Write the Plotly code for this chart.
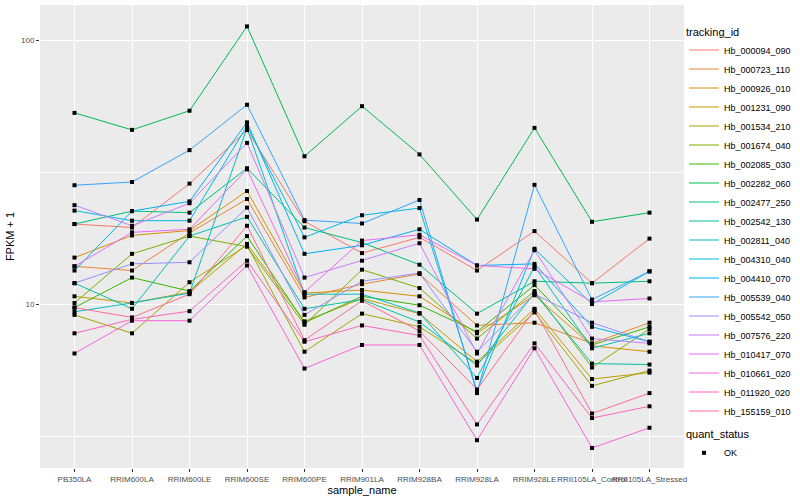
import plotly.graph_objects as go

samples = ["PB350LA", "RRIM600LA", "RRIM600LE", "RRIM600SE", "RRIM600PE", "RRIM901LA",
           "RRIM928BA", "RRIM928LA", "RRIM928LE", "RRII105LA_Control", "RRII105LA_Stressed"]

tracking_ids = ["Hb_000094_090", "Hb_000723_110", "Hb_000926_010", "Hb_001231_090", "Hb_001534_210",
                "Hb_001674_040", "Hb_002085_030", "Hb_002282_060", "Hb_002477_250", "Hb_002542_130",
                "Hb_002811_040", "Hb_004310_040", "Hb_004410_070", "Hb_005539_040", "Hb_005542_050",
                "Hb_007576_220", "Hb_010417_070", "Hb_010661_020", "Hb_011920_020", "Hb_155159_010"]

colors = ["#F8766D", "#EA8331", "#D89000", "#C09B00", "#A3A500", "#7CAE00", "#39B600", "#00BB4E",
          "#00BF7D", "#00C1A3", "#00BFC4", "#00BAE0", "#00B0F6", "#35A2FF", "#9590FF", "#C77CFF",
          "#E76BF3", "#FA62DB", "#FF62BC", "#FF6C91"]

# FPKM + 1 per tracking_id, in sample order
Hb_000094_090 = [20.1, 19.5, 28.6, 45.6, 20.6, 15.6, 17.9, 13.4, 18.9, 12.0, 17.7]
Hb_000723_110 = [13.9, 13.4, 18.6, 25.0, 10.6, 11.9, 13.0, 8.3, 8.5, 7.1, 8.5]
Hb_000926_010 = [15.0, 18.2, 19.0, 26.8, 11.0, 11.3, 10.7, 7.75, 10.8, 6.95, 6.6]
Hb_001231_090 = [10.7, 10.1, 11.1, 16.9, 8.6, 10.5, 9.2, 6.05, 9.6, 5.2, 5.5]
Hb_001534_210 = [9.1, 7.75, 12.1, 16.7, 6.6, 9.2, 8.2, 5.95, 9.3, 4.9, 5.6]
Hb_001674_040 = [10.1, 15.5, 18.1, 16.5, 8.35, 13.5, 11.5, 7.4, 11.2, 5.75, 8.05]
Hb_002085_030 = [9.7, 12.6, 11.2, 18.1, 8.5, 10.7, 9.9, 7.85, 11.8, 7.0, 8.2]
Hb_002282_060 = [53.0, 45.7, 54.0, 112.7, 36.3, 56.2, 36.9, 20.9, 46.5, 20.5, 22.2]
Hb_002477_250 = [20.1, 22.5, 22.2, 32.7, 19.5, 17.1, 14.1, 9.2, 12.2, 12.0, 12.2]
Hb_002542_130 = [12.0, 9.6, 18.1, 21.4, 9.6, 10.4, 8.55, 5.85, 11.0, 5.95, 5.9]
Hb_002811_040 = [9.35, 10.1, 11.0, 46.5, 10.9, 10.9, 9.25, 5.25, 13.9, 6.8, 7.75]
Hb_004310_040 = [22.6, 20.7, 20.7, 47.3, 17.9, 21.7, 23.1, 4.7, 16.2, 10.0, 13.3]
Hb_004410_070 = [13.4, 22.5, 24.5, 48.8, 15.5, 16.7, 19.2, 14.0, 14.2, 8.2, 7.2]
Hb_005539_040 = [28.2, 29.0, 38.3, 56.9, 20.8, 20.2, 24.8, 4.6, 28.3, 10.4, 13.3]
Hb_005542_050 = [12.0, 14.2, 14.4, 23.2, 9.1, 12.2, 13.1, 6.6, 10.9, 8.5, 7.2]
Hb_007576_220 = [23.7, 19.8, 24.1, 40.8, 12.6, 14.6, 17.0, 6.5, 16.0, 7.4, 7.1]
Hb_010417_070 = [13.9, 18.7, 19.2, 32.4, 11.1, 17.4, 18.3, 14.0, 13.6, 10.2, 10.5]
Hb_010661_020 = [6.5, 8.65, 8.65, 14.0, 5.7, 7.0, 7.0, 3.05, 6.8, 2.85, 3.4]
Hb_011920_020 = [7.75, 8.75, 9.4, 14.6, 7.2, 8.3, 7.6, 3.5, 7.1, 3.7, 4.1]
Hb_155159_010 = [9.7, 8.9, 10.9, 19.8, 7.3, 10.3, 7.9, 4.75, 9.5, 3.85, 4.6]

series = [Hb_000094_090, Hb_000723_110, Hb_000926_010, Hb_001231_090, Hb_001534_210,
          Hb_001674_040, Hb_002085_030, Hb_002282_060, Hb_002477_250, Hb_002542_130,
          Hb_002811_040, Hb_004310_040, Hb_004410_070, Hb_005539_040, Hb_005542_050,
          Hb_007576_220, Hb_010417_070, Hb_010661_020, Hb_011920_020, Hb_155159_010]

FONT = "Liberation Sans, Arial, sans-serif"
fig = go.Figure()

for name, vals, col in zip(tracking_ids, series, colors):
    fig.add_trace(go.Scatter(x=samples, y=vals, mode="lines", name=name,
                             line=dict(color=col, width=1), legend="legend"))

all_x, all_y = [], []
for vals in series:
    all_x += samples
    all_y += vals
fig.add_trace(go.Scatter(x=all_x, y=all_y, mode="markers", name="OK",
                         marker=dict(symbol="square", size=4, color="black"),
                         legend="legend2"))

fig.update_layout(
    width=800, height=500,
    margin=dict(l=40, r=116, t=5, b=32, autoexpand=False),
    paper_bgcolor="white", plot_bgcolor="#EBEBEB",
    font=dict(family=FONT, size=9, color="black"),
    legend=dict(title=dict(text="tracking_id", font=dict(size=11)),
                x=1.0, xanchor="left", y=0.965, yanchor="top",
                font=dict(size=9), tracegroupgap=0, itemwidth=30,
                bgcolor="rgba(0,0,0,0)"),
    legend2=dict(title=dict(text="quant_status", font=dict(size=11)),
                 x=1.0, xanchor="left", y=0.095, yanchor="top",
                 font=dict(size=9), itemwidth=30, bgcolor="rgba(0,0,0,0)"),
)

fig.update_xaxes(type="category", categoryorder="array", categoryarray=samples,
                 range=[-0.6, 10.6], showgrid=True, gridcolor="white", gridwidth=1.1,
                 ticks="outside", ticklen=3, tickcolor="#333333", tickangle=0,
                 tickfont=dict(size=8, color="#4D4D4D"), zeroline=False, showline=False,
                 title=dict(text="sample_name", font=dict(size=11), standoff=2))

fig.update_yaxes(type="log", range=[0.379, 2.133], tickvals=[10, 100], ticktext=["10", "100"],
                 showgrid=True, gridcolor="white", gridwidth=1.1,
                 minor=dict(tickvals=[10 ** 0.5, 10 ** 1.5], showgrid=True,
                            gridcolor="white", gridwidth=0.5, ticks=""),
                 ticks="outside", ticklen=3, tickcolor="#333333",
                 tickfont=dict(size=8, color="#4D4D4D"), zeroline=False, showline=False,
                 title=dict(text="FPKM + 1", font=dict(size=11), standoff=4))

fig.write_html("out.html", config={"displayModeBar": False},
               post_script="document.body.style.margin='0';document.body.style.padding='0';")
